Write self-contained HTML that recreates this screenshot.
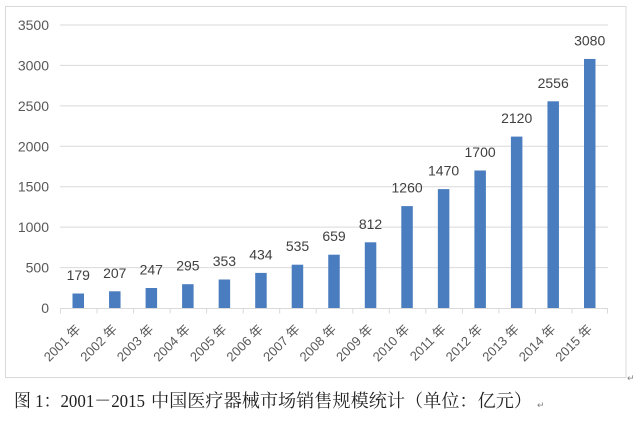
<!DOCTYPE html>
<html>
<head>
<meta charset="utf-8">
<style>
html,body{margin:0;padding:0;background:#fff;}
body{width:640px;height:425px;overflow:hidden;}
svg{display:block;}
</style>
</head>
<body>
<svg width="640" height="425" viewBox="0 0 640 425" xmlns="http://www.w3.org/2000/svg">
<rect x="0" y="0" width="640" height="425" fill="#ffffff"/>
<!-- chart border -->
<rect x="5.5" y="6.5" width="620.5" height="371" fill="#ffffff" stroke="#d9d9d9" stroke-width="1"/>
<!-- gridlines -->
<g stroke="#d9d9d9" stroke-width="1">
<line x1="60" y1="267.6" x2="608" y2="267.6"/>
<line x1="60" y1="227.1" x2="608" y2="227.1"/>
<line x1="60" y1="186.7" x2="608" y2="186.7"/>
<line x1="60" y1="146.3" x2="608" y2="146.3"/>
<line x1="60" y1="105.9" x2="608" y2="105.9"/>
<line x1="60" y1="65.4" x2="608" y2="65.4"/>
<line x1="60" y1="25" x2="608" y2="25"/>
</g>
<!-- y labels -->
<g font-family="Liberation Sans, sans-serif" font-size="14" fill="#595959" text-anchor="end">
<text x="49" y="313">0</text>
<text x="49" y="272.6">500</text>
<text x="49" y="232.1">1000</text>
<text x="49" y="191.7">1500</text>
<text x="49" y="151.3">2000</text>
<text x="49" y="110.9">2500</text>
<text x="49" y="70.4">3000</text>
<text x="49" y="30">3500</text>
</g>
<!-- bars -->
<g fill="#4a7dbf">
<rect x="72.5" y="293.5" width="11.5" height="14.5"/>
<rect x="109.05" y="291.3" width="11.5" height="16.7"/>
<rect x="145.6" y="288" width="11.5" height="20"/>
<rect x="182.1" y="284.2" width="11.5" height="23.8"/>
<rect x="218.65" y="279.5" width="11.5" height="28.5"/>
<rect x="255.2" y="272.9" width="11.5" height="35.1"/>
<rect x="291.7" y="264.7" width="11.5" height="43.3"/>
<rect x="328.25" y="254.7" width="11.5" height="53.3"/>
<rect x="364.8" y="242.3" width="11.5" height="65.7"/>
<rect x="401.3" y="206.1" width="11.5" height="101.9"/>
<rect x="437.85" y="189.1" width="11.5" height="118.9"/>
<rect x="474.4" y="170.5" width="11.5" height="137.5"/>
<rect x="510.9" y="136.6" width="11.5" height="171.4"/>
<rect x="547.45" y="101.3" width="11.5" height="206.7"/>
<rect x="584" y="58.95" width="11.5" height="249.05"/>
</g>
<!-- x axis -->
<g stroke="#d9d9d9" stroke-width="1">
<line x1="60" y1="308.5" x2="608" y2="308.5"/>
<line x1="60.5" y1="308.5" x2="60.5" y2="313.5"/>
<line x1="97" y1="308.5" x2="97" y2="313.5"/>
<line x1="133.5" y1="308.5" x2="133.5" y2="313.5"/>
<line x1="170.1" y1="308.5" x2="170.1" y2="313.5"/>
<line x1="206.6" y1="308.5" x2="206.6" y2="313.5"/>
<line x1="243.2" y1="308.5" x2="243.2" y2="313.5"/>
<line x1="279.7" y1="308.5" x2="279.7" y2="313.5"/>
<line x1="316.2" y1="308.5" x2="316.2" y2="313.5"/>
<line x1="352.8" y1="308.5" x2="352.8" y2="313.5"/>
<line x1="389.3" y1="308.5" x2="389.3" y2="313.5"/>
<line x1="425.8" y1="308.5" x2="425.8" y2="313.5"/>
<line x1="462.4" y1="308.5" x2="462.4" y2="313.5"/>
<line x1="498.9" y1="308.5" x2="498.9" y2="313.5"/>
<line x1="535.4" y1="308.5" x2="535.4" y2="313.5"/>
<line x1="572" y1="308.5" x2="572" y2="313.5"/>
<line x1="607.5" y1="308.5" x2="607.5" y2="313.5"/>
</g>
<!-- value labels -->
<g font-family="Liberation Sans, sans-serif" font-size="14" fill="#404040" text-anchor="middle">
<text x="78.3" y="280">179</text>
<text x="114.8" y="277.8">207</text>
<text x="151.3" y="274.5">247</text>
<text x="187.9" y="270.7">295</text>
<text x="224.4" y="266">353</text>
<text x="260.9" y="259.4">434</text>
<text x="297.5" y="251.2">535</text>
<text x="334" y="241.2">659</text>
<text x="370.5" y="228.8">812</text>
<text x="407.1" y="192.6">1260</text>
<text x="443.6" y="175.6">1470</text>
<text x="480.1" y="157">1700</text>
<text x="516.7" y="123.1">2120</text>
<text x="553.2" y="87.8">2556</text>
<text x="589.7" y="45.5">3080</text>
</g>
<!-- x labels -->
<g font-family="Liberation Sans, 'Noto Sans CJK SC', sans-serif" font-size="13" fill="#595959" text-anchor="end">
<text transform="translate(81.5,330) rotate(-45)">2001 年</text>
<text transform="translate(118,330) rotate(-45)">2002 年</text>
<text transform="translate(154.5,330) rotate(-45)">2003 年</text>
<text transform="translate(191,330) rotate(-45)">2004 年</text>
<text transform="translate(227.6,330) rotate(-45)">2005 年</text>
<text transform="translate(264.1,330) rotate(-45)">2006 年</text>
<text transform="translate(300.7,330) rotate(-45)">2007 年</text>
<text transform="translate(337.2,330) rotate(-45)">2008 年</text>
<text transform="translate(373.7,330) rotate(-45)">2009 年</text>
<text transform="translate(410.3,330) rotate(-45)">2010 年</text>
<text transform="translate(446.8,330) rotate(-45)">2011 年</text>
<text transform="translate(483.3,330) rotate(-45)">2012 年</text>
<text transform="translate(519.9,330) rotate(-45)">2013 年</text>
<text transform="translate(556.4,330) rotate(-45)">2014 年</text>
<text transform="translate(592.9,330) rotate(-45)">2015 年</text>
</g>
<!-- return marks -->
<text x="627" y="381" font-family="Liberation Sans, sans-serif" font-size="9" fill="#808080">↵</text>
<!-- caption -->
<g font-family="Liberation Serif, 'Noto Serif CJK SC', serif" font-size="18" fill="#222">
<text x="14" y="407" textLength="131" lengthAdjust="spacingAndGlyphs">图 1：2001－2015</text>
<text x="151" y="407" textLength="381" lengthAdjust="spacingAndGlyphs">中国医疗器械市场销售规模统计（单位：亿元）</text>
</g>
<text x="537" y="408" font-family="Liberation Sans, sans-serif" font-size="9" fill="#808080">↵</text>
</svg>
</body>
</html>
